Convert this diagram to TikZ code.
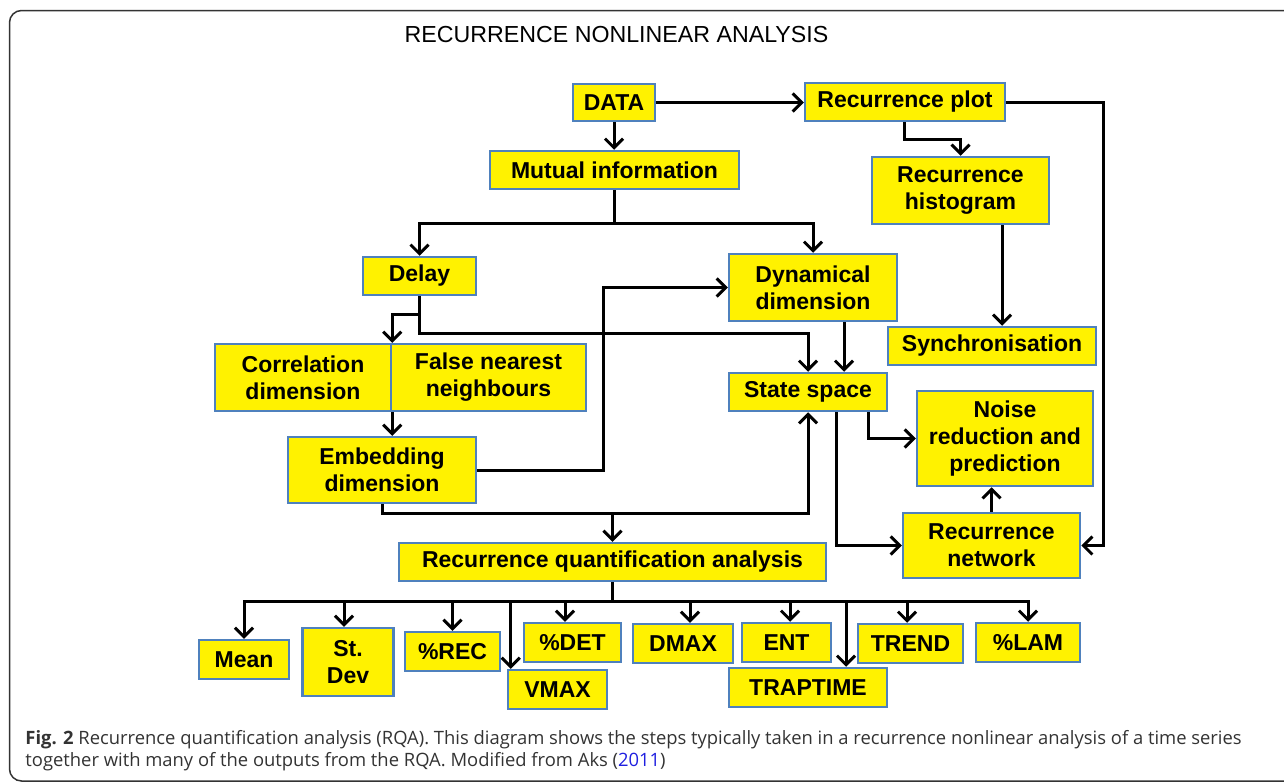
\documentclass[tikz,border=0pt]{standalone}
\usepackage{fontspec}
\setmainfont{Liberation Sans}
\newfontfamily\capfont{Open Sans}
\usetikzlibrary{arrows.meta}
\definecolor{boxblue}{HTML}{4F81BD}
\definecolor{capgray}{HTML}{333333}
\definecolor{linkblue}{HTML}{1F1FE0}
\begin{document}
\begin{tikzpicture}[x=0.5pt,y=-0.5pt,
  box/.style={draw=boxblue, fill=yellow, line width=1.25pt, inner sep=0pt, align=center,
    font=\bfseries\fontsize{11.5}{13.5}\selectfont},
  arr/.style={line width=1.5pt, -{Straight Barb[length=4.5pt,width=9pt]}},
  ln/.style={line width=1.5pt}]
\useasboundingbox (0,0) rectangle (1284,782);
\draw[capgray, line width=0.75pt, rounded corners=6pt] (1300,10.5) -- (9.5,10.5) -- (9.5,781) -- (1300,781);

\node[font=\fontsize{11.6}{14}\selectfont, anchor=base, inner sep=0pt] (title) at (616.5,42) {RECURRENCE NONLINEAR ANALYSIS};

\node[box, minimum width=41pt, minimum height=18.5pt] (data) at (614,102.5) {DATA};
\node[box, minimum width=124.5pt, minimum height=19pt] (mutual) at (614.5,170) {Mutual information};
\node[box, minimum width=100pt, minimum height=19pt] (rplot) at (905,102) {Recurrence plot};
\node[box, minimum width=88.5pt, minimum height=33.5pt] (rhist) at (960.5,190.5) {Recurrence\\histogram};
\node[box, minimum width=56.5pt, minimum height=19pt] (delay) at (419.5,276) {Delay};
\node[box, minimum width=84pt, minimum height=33.5pt] (dyn) at (813,287.5) {Dynamical\\dimension};
\node[box, minimum width=88pt, minimum height=33.5pt] (corr) at (303,377.5) {Correlation\\dimension};
\node[box, minimum width=97.5pt, minimum height=33.5pt] (fnn) at (488.5,377.5) {False nearest\\neighbours};
\node[box, minimum width=94pt, minimum height=33pt] (embed) at (382,470) {Embedding\\dimension};
\node[box, minimum width=104pt, minimum height=19pt] (sync) at (992,346) {Synchronisation};
\node[box, minimum width=79pt, minimum height=19pt] (state) at (808,392) {State space};
\node[box, minimum width=88pt, minimum height=47.5pt] (noise) at (1005,438.5) {Noise\\reduction and\\prediction};
\node[box, minimum width=88.5pt, minimum height=32.5pt] (rnet) at (991.5,545.5) {Recurrence\\network};
\node[box, minimum width=213.5pt, minimum height=19pt] (rqa) at (612.5,562) {Recurrence quantification analysis};

\node[box, minimum width=45pt, minimum height=19.5pt] (mean) at (244,659.5) {Mean};
\node[box, minimum width=45.5pt, minimum height=34pt] (stdev) at (348,662) {St.\\Dev};
\node[box, minimum width=47.5pt, minimum height=19.5pt] (rec) at (452.5,651.5) {\%REC};
\node[box, minimum width=49.5pt, minimum height=19.5pt] (vmax) at (557.5,689.5) {VMAX};
\node[box, minimum width=48.5pt, minimum height=19.5pt] (det) at (572.5,642.5) {\%DET};
\node[box, minimum width=50pt, minimum height=19.5pt] (dmax) at (683,643.5) {DMAX};
\node[box, minimum width=44.5pt, minimum height=19.5pt] (ent) at (786.5,642.5) {ENT};
\node[box, minimum width=79pt, minimum height=19.5pt] (trap) at (808,687.5) {TRAPTIME};
\node[box, minimum width=52.5pt, minimum height=19.5pt] (trend) at (910.5,643.5) {TREND};
\node[box, minimum width=52pt, minimum height=19.5pt] (lam) at (1028,642.5) {\%LAM};

% connectors
\draw[arr] (data.east) -- (data.east -| rplot.west);
\draw[arr] (data.south) -- (data.south |- mutual.north);
\draw[arr] (904,0 |- rplot.south) -- (904,139) -| (rhist.north);
\draw[arr] (rplot.east) -- (1103,0 |- rplot.east) |- (rnet.east);
\draw[arr] (1002,0 |- rhist.south) -- (1002,0 |- sync.north);
\coordinate (mj) at (614.5,223);
\draw[ln] (mutual.south) -- (mj);
\draw[arr] (mj) -| (delay.north);
\draw[arr] (mj) -| (dyn.north);
\draw[arr] (delay.south) -- ++(0,18) -| (corr.north east);
\draw[arr] (delay.south) |- (state.north |- 0,333) -- (state.north);
\draw[arr] (844,0 |- dyn.south) -- (844,0 |- state.north);
\draw[arr] (corr.south east) -- (corr.south east |- embed.north);
\draw[arr] (embed.east) -- (603,0 |- embed.east) |- (dyn.west);
\coordinate (ej) at (612.5,513);
\draw[arr] (embed.south) |- (state.south |- ej) -- (state.south);
\draw[arr] (ej) -- (rqa.north);
\draw[arr] (868,0 |- state.south) |- (noise.west);
\draw[arr] (836,0 |- state.south) |- (rnet.west);
\draw[arr] (rnet.north) -- (rnet.north |- noise.south);

\coordinate (bus) at (612.5,601);
\draw[ln] (rqa.south) -- (bus);
\draw[arr] (bus) -| (mean.north);
\draw[arr] (bus) -| ([xshift=-2pt]stdev.north);
\draw[arr] (bus) -| (rec.north);
\draw[arr] (bus) -| ([xshift=2pt]vmax.north west);
\draw[arr] (bus) -| ([xshift=-3.75pt]det.north);
\draw[arr] (bus) -| ([xshift=3.5pt]dmax.north);
\draw[arr] (bus) -| ([xshift=1.75pt]ent.north);
\draw[arr] (bus) -| ([xshift=19pt]trap.north);
\draw[arr] (bus) -| ([xshift=-1.75pt]trend.north);
\draw[arr] (bus) -| (lam.north);

\node[anchor=base west, inner sep=0pt, text=capgray, font=\capfont\fontsize{9.2}{11}\selectfont] (cap1) at (25,744)
  {\textbf{Fig. 2} Recurrence quantification analysis (RQA). This diagram shows the steps typically taken in a recurrence nonlinear analysis of a time series};
\node[anchor=base west, inner sep=0pt, text=capgray, font=\capfont\fontsize{9.2}{11}\selectfont] (cap2) at (25,766)
  {together with many of the outputs from the RQA. Modified from Aks ({\color{linkblue}2011})};
\end{tikzpicture}
\end{document}
